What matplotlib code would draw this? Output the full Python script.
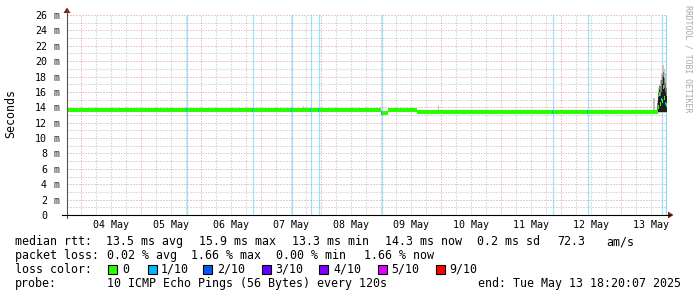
import matplotlib
matplotlib.use("Agg")
import matplotlib.pyplot as plt
import matplotlib.dates as mdates
from matplotlib.ticker import MultipleLocator
from matplotlib.patches import Polygon, Rectangle
from matplotlib.lines import Line2D
from datetime import datetime, timedelta
import numpy as np

# ---------------- data ----------------
END_TIME = "2025-05-13 18:20:07"
SPAN_HOURS = 240.0
PIXEL_HOURS = 0.4          # one graph column (600 columns over 10 days)

# median rtt (ms), step values holding from each hour mark to the next
med_hours = [0.0, 125.6, 128.4, 140.0, 235.2, 236.4, 236.8, 237.2, 237.6,
             238.0, 238.4, 238.8, 239.2, 239.6, 240.0]
med_ms = [13.62, 13.30, 13.62, 13.35, 13.40, 14.0, 15.7, 14.4, 15.0,
          14.8, 16.6, 15.2, 14.5, 14.3, 14.3]

# outer (light) smoke band
smoke_hours = [0.0, 94.4, 94.8, 125.6, 128.4, 140.0, 148.4, 148.8, 234.4,
               235.2, 236.0, 236.4, 236.8, 237.2, 237.6, 238.0, 238.4,
               238.8, 239.2, 239.6, 240.0]
smoke_top = [13.75, 14.15, 13.75, 13.45, 13.75, 13.5, 14.3, 13.5, 15.2,
             13.55, 15.0, 16.5, 17.0, 17.6, 18.5, 19.5, 19.5, 19.0, 18.5,
             17.5, 17.5]
smoke_bot = [13.5, 13.5, 13.5, 13.2, 13.5, 13.25, 13.25, 13.25, 13.25,
             13.25, 13.3, 13.3, 13.3, 13.3, 13.3, 13.3, 13.3, 13.3, 13.3,
             13.3, 13.3]

# middle (grey) smoke band
mid_hours = [236.0, 236.4, 236.8, 237.2, 237.6, 238.0, 238.4, 238.8,
             239.2, 239.6, 240.0]
mid_top = [14.5, 16.0, 16.8, 16.8, 17.5, 18.2, 18.6, 17.8, 17.2, 16.5, 16.5]
mid_bot = [13.35, 13.35, 13.35, 13.35, 13.35, 13.35, 13.35, 13.35, 13.35,
           13.35, 13.35]

# inner (dark) smoke band
dark_hours = [236.0, 236.4, 236.8, 237.2, 237.6, 238.0, 238.4, 238.8,
              239.2, 239.6, 240.0]
dark_top = [13.6, 15.4, 16.2, 15.5, 16.0, 17.0, 18.0, 16.5, 16.0, 15.5, 15.5]
dark_bot = [13.4, 13.4, 13.4, 13.4, 13.4, 13.4, 13.4, 13.4, 13.4, 13.4, 13.4]

# loss events (hours since start), all 1/10 loss
loss_hours = [47.6, 74.0, 89.6, 97.2, 100.4, 125.6, 194.0, 208.0, 237.6, 239.2]

day_labels = ["04 May", "05 May", "06 May", "07 May", "08 May",
              "09 May", "10 May", "11 May", "12 May", "13 May"]
y_ticks = [0, 2, 4, 6, 8, 10, 12, 14, 16, 18, 20, 22, 24, 26]

loss_names = ["0", "1/10", "2/10", "3/10", "4/10", "5/10", "9/10"]
loss_colors = ["#26ff00", "#00b8ff", "#0059ff", "#5e00ff", "#7e00ff",
               "#dd00ff", "#ff0000"]

row1 = [("median rtt:", 16), ("13.5 ms avg", 107), ("15.9 ms max", 200),
        ("13.3 ms min", 293), ("14.3 ms now", 386), ("0.2 ms sd", 478),
        ("72.3", 558), ("am/s", 607)]
row2 = [("packet loss:", 16), ("0.02 % avg", 108), ("1.66 % max", 192),
        ("0.00 % min", 277), ("1.66 % now", 365)]
probe_text = "10 ICMP Echo Pings (56 Bytes) every 120s"
end_text = "end: Tue May 13 18:20:07 2025"

# ---------------- layout ----------------
W, H = 697, 297
L, R, T, B = 67, 667, 15, 215
MONO = "DejaVu Sans Mono"
FS = 8.34
MED_HALF = 0.24            # half thickness of the median band, ms

fig = plt.figure(figsize=(W / 100, H / 100), dpi=100)
fig.patch.set_facecolor("white")
ax = fig.add_axes([L / W, (H - B) / H, (R - L) / W, (B - T) / H])
ax.set_facecolor("white")

end_dt = datetime.strptime(END_TIME, "%Y-%m-%d %H:%M:%S")
start_dt = end_dt - timedelta(hours=SPAN_HOURS)
t0 = mdates.date2num(start_dt)


def tx(hours):
    return t0 + np.asarray(hours, dtype=float) / 24.0


ax.set_xlim(tx(0), tx(SPAN_HOURS))
ax.set_ylim(0, 26)

ax.xaxis.set_major_locator(mdates.DayLocator())
ax.xaxis.set_minor_locator(mdates.HourLocator(byhour=[6, 12, 18]))
ax.yaxis.set_major_locator(MultipleLocator(2))
ax.yaxis.set_minor_locator(MultipleLocator(1))
ax.set_axisbelow(True)
ax.grid(which="minor", color="#b9b9b9", linestyle=(0, (1, 2)), lw=0.72)
ax.grid(which="major", color="#e79494", linestyle=(0, (1, 2)), lw=0.72)
ax.tick_params(which="both", length=0, labelbottom=False, labelleft=False)
for s in ax.spines.values():
    s.set_visible(False)

# loss background bars
for h in loss_hours:
    ax.axvline(tx(h + PIXEL_HOURS / 2), color="#00b8ff", alpha=0.38,
               lw=0.9, zorder=1)

# smoke
ax.fill_between(tx(smoke_hours), smoke_bot, smoke_top, step="post",
                color="#c4c4c4", lw=0, zorder=2)
ax.fill_between(tx(mid_hours), mid_bot, mid_top, step="post",
                color="#7a7a7a", lw=0, zorder=2.05)
ax.fill_between(tx(dark_hours), dark_bot, dark_top, step="post",
                color="#1e1e1e", lw=0, zorder=2.1)

# median drawn as a thin band per column (no vertical connectors)
med_arr = np.asarray(med_ms)
ax.fill_between(tx(med_hours), med_arr - MED_HALF, med_arr + MED_HALF,
                step="post", color="#26ff00", lw=0, zorder=3)
for h in loss_hours:
    idx = np.searchsorted(med_hours, h, side="right") - 1
    v = med_ms[idx]
    ax.fill_between(tx([h, h + PIXEL_HOURS]), [v - MED_HALF] * 2,
                    [v + MED_HALF] * 2, color="#00b8ff", lw=0, zorder=3.1)

# y tick labels
for v in y_ticks:
    ax.annotate(str(v), xy=(0, v), xycoords=("axes fraction", "data"),
                xytext=(-20, -4), textcoords="offset pixels", ha="right",
                va="baseline", fontfamily=MONO, fontsize=7.2, color="black")
    if v != 0:
        ax.annotate("m", xy=(0, v), xycoords=("axes fraction", "data"),
                    xytext=(-13.5, -4), textcoords="offset pixels", ha="left",
                    va="baseline", fontfamily=MONO, fontsize=7.2,
                    color="#333333")

# x tick labels at noon
for lab in day_labels:
    d = datetime.strptime(lab + " 2025 12:00", "%d %b %Y %H:%M")
    ax.annotate(lab, xy=(mdates.date2num(d), 0),
                xycoords=("data", "axes fraction"), xytext=(0, -13.3),
                textcoords="offset pixels", ha="center", va="baseline",
                fontfamily=MONO, fontsize=7.2)


def P(x, y):
    return (x / W, 1 - y / H)


# axes lines and arrows
fig.add_artist(Line2D([L / W, L / W], [1 - 10 / H, 1 - 218 / H],
                      transform=fig.transFigure, color="#555555", lw=0.8))
fig.add_artist(Line2D([62 / W, 670 / W], [1 - B / H, 1 - B / H],
                      transform=fig.transFigure, color="black", lw=0.8))
fig.add_artist(Polygon([P(63.5, 13), P(70.5, 13), P(67, 7.5)], closed=True,
                       transform=fig.transFigure, color="#801c1c", lw=0))
fig.add_artist(Polygon([P(668, 211.5), P(668, 218.5), P(673.5, 215)],
                       closed=True, transform=fig.transFigure,
                       color="#801c1c", lw=0))


def ftext(x, y, s, **kw):
    fig.text(x / W, 1 - y / H, s, fontfamily=MONO, fontsize=FS,
             va="baseline", **kw)


fig.text(11 / W, 1 - 114 / H, "Seconds", rotation=90, ha="center",
         va="center", fontfamily=MONO, fontsize=FS)
fig.text(688 / W, 1 - 59 / H, "RRDTOOL / TOBI OETIKER", rotation=270,
         ha="center", va="center", fontfamily=MONO, fontsize=5.9,
         color="#a8a8a8")

# legend rows
for s, x in row1:
    ftext(x - 0.7, 245.4, s)
for s, x in row2:
    ftext(x - 0.7, 258.6, s)
ftext(16 - 0.7, 272.6, "loss color:")
sq_x = [108, 148, 203, 262, 319, 378, 436]
lab_x = [123, 161, 218, 276, 334, 392, 450]
for name, col, sx, lx in zip(loss_names, loss_colors, sq_x, lab_x):
    fig.add_artist(Rectangle(P(sx, 274), 9 / W, 9 / H, facecolor=col,
                             edgecolor="black", lw=0.8,
                             transform=fig.transFigure))
    ftext(lx - 0.7, 272.6, name)
ftext(16 - 0.7, 286.6, "probe:")
ftext(108 - 0.7, 286.6, probe_text)
ftext(680.5, 286.6, end_text, ha="right")

fig.savefig("out.png", dpi=100, facecolor="white")
